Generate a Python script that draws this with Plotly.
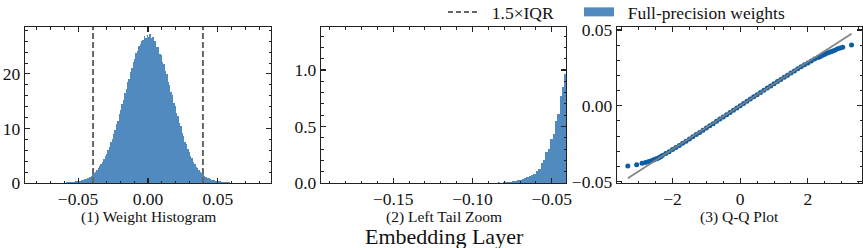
import plotly.graph_objects as go

# ---------------- data ----------------
# Panel 1: weight histogram, bins of width 0.001 starting at -0.070 (density)
hist1_start = -0.070
hist1_width = 0.001
hist1_heights = [
    0.022, 0.026, 0.030, 0.035, 0.040, 0.046, 0.052, 0.060, 0.070, 0.080,
    0.090, 0.105, 0.125, 0.145, 0.170, 0.200, 0.230, 0.270, 0.310, 0.350,
    0.390, 0.440, 0.500, 0.570, 0.660, 0.72, 0.84, 0.97, 1.15, 1.31,
    1.56, 1.75, 2.06, 2.31, 2.70, 3.07, 3.40, 3.92, 4.31, 4.95,
    5.40, 6.12, 6.68, 7.52, 8.10, 9.04, 9.70, 10.78, 11.45, 12.62,
    13.30, 14.52, 15.20, 16.50, 17.21, 18.52, 19.10, 20.41, 21.00, 22.12,
    22.68, 23.80, 24.20, 25.08, 25.41, 26.10, 26.25, 26.88, 26.62, 27.05,
    26.80, 27.30, 26.58, 26.72, 25.95, 26.10, 25.00, 24.85, 23.70, 23.38,
    22.20, 21.86, 20.52, 20.02, 18.58, 18.05, 16.70, 16.10, 14.72, 14.12,
    12.82, 12.30, 11.02, 10.40, 9.22, 8.70, 7.60, 7.12, 6.20, 5.75,
    4.95, 4.52, 3.85, 3.55, 3.00, 2.72, 2.32, 2.10, 1.80, 1.58,
    1.32, 1.18, 0.96, 0.86, 0.70, 0.64, 0.55, 0.49, 0.43, 0.38,
    0.34, 0.30, 0.265, 0.23, 0.20, 0.17, 0.145, 0.125, 0.105, 0.090,
    0.080, 0.068, 0.058, 0.050, 0.044, 0.038, 0.033, 0.028, 0.024, 0.020,
]

# 1.5 x IQR fences
iqr_lower = -0.0393
iqr_upper = 0.0393

# Panel 2: left tail histogram, bins of width 0.0015 starting at -0.0855
hist2_start = -0.0855
hist2_width = 0.0015
hist2_heights = [
    0.003, 0.005, 0.004, 0.008, 0.009, 0.013, 0.012, 0.019, 0.021, 0.028,
    0.027, 0.038, 0.040, 0.052, 0.058, 0.075, 0.084, 0.110, 0.125, 0.175,
    0.200, 0.270, 0.300, 0.390, 0.430, 0.545, 0.610, 0.770, 0.850, 0.960,
]

# Panel 3: Q-Q plot (theoretical normal quantile, sample quantile)
qq_theoretical = [
    -3.32, -3.06, -2.90, -2.80, -2.72, -2.66, -2.60, -2.55, -2.50, -2.45, -2.40, -2.35,
    -2.3, -2.2, -2.1, -2.0, -1.9, -1.8, -1.7, -1.6, -1.5, -1.4, -1.3, -1.2, -1.1, -1.0,
    -0.9, -0.8, -0.7, -0.6, -0.5, -0.4, -0.3, -0.2, -0.1, 0.0, 0.1, 0.2, 0.3, 0.4, 0.5,
    0.6, 0.7, 0.8, 0.9, 1.0, 1.1, 1.2, 1.3, 1.4, 1.5, 1.6, 1.7, 1.8, 1.9, 2.0, 2.1, 2.2, 2.3,
    2.35, 2.40, 2.45, 2.50, 2.56, 2.62, 2.68, 2.74, 2.81, 2.88, 2.96, 3.03, 3.29,
]
qq_sample = [
    -0.0398, -0.0390, -0.0380, -0.0374, -0.0370, -0.0366, -0.0361, -0.0357, -0.0352, -0.0348, -0.0343, -0.0337,
    -0.0328, -0.0316, -0.0303, -0.0289, -0.0276, -0.0262, -0.0248, -0.0234, -0.0219, -0.0205, -0.0190, -0.0176, -0.0161, -0.0147,
    -0.0132, -0.0118, -0.0103, -0.0088, -0.0074, -0.0059, -0.0044, -0.0030, -0.0015, 0.0000, 0.0015, 0.0030, 0.0044, 0.0059, 0.0073,
    0.0088, 0.0102, 0.0117, 0.0131, 0.0145, 0.0160, 0.0174, 0.0188, 0.0202, 0.0216, 0.0230, 0.0244, 0.0257, 0.0270, 0.0283, 0.0296, 0.0308, 0.0319,
    0.0324, 0.0330, 0.0335, 0.0340, 0.0346, 0.0351, 0.0356, 0.0362, 0.0368, 0.0376, 0.0381, 0.0386, 0.0401,
]
# fitted reference line
qq_line_x = [-3.32, 3.29]
qq_line_y = [-0.0478, 0.0475]

# text
subtitles = ["(1) Weight Histogram", "(2) Left Tail Zoom", "(3) Q-Q Plot"]
suptitle = "Embedding Layer"
legend_labels = ["1.5\u00d7IQR", "Full-precision weights"]

# ---------------- styling ----------------
BLUE = "#0C5DA5"
BAR_FILL = "rgba(12,93,165,0.72)"
FONT = "Liberation Serif"
W, H = 863, 248
NBSP = "\u00a0"


def px(x):
    return x / W


def py(y):
    return 1 - y / H


hist1_x = [hist1_start + hist1_width * (i + 0.5) for i in range(len(hist1_heights))]
hist2_x = [hist2_start + hist2_width * (i + 0.5) for i in range(len(hist2_heights))]

fig = go.Figure()

fig.add_trace(go.Bar(x=hist1_x, y=hist1_heights, width=hist1_width,
                     marker=dict(color=BAR_FILL, line=dict(width=0)),
                     showlegend=False, xaxis="x", yaxis="y"))
fig.add_trace(go.Bar(x=hist2_x, y=hist2_heights, width=hist2_width,
                     marker=dict(color=BAR_FILL, line=dict(width=0)),
                     showlegend=False, xaxis="x2", yaxis="y2"))
fig.add_trace(go.Scatter(x=qq_theoretical, y=qq_sample, mode="markers",
                         marker=dict(color=BLUE, size=5, line=dict(width=0)),
                         showlegend=False, xaxis="x3", yaxis="y3"))
fig.add_trace(go.Scatter(x=qq_line_x, y=qq_line_y, mode="lines",
                         line=dict(color="rgba(128,128,128,0.95)", width=1.8),
                         showlegend=False, xaxis="x3", yaxis="y3"))

# legend entries (two independent legends)
fig.add_trace(go.Scatter(x=[None], y=[None], mode="lines", name=NBSP * 2 + legend_labels[0],
                         line=dict(color="#666666", width=2, dash="5px,3px"),
                         xaxis="x", yaxis="y", legend="legend"))
fig.add_trace(go.Scatter(x=[None], y=[None], mode="lines", name=NBSP * 2 + legend_labels[1],
                         line=dict(color=BAR_FILL, width=9),
                         xaxis="x", yaxis="y", legend="legend2"))

for xv in (iqr_lower, iqr_upper):
    fig.add_shape(type="line", xref="x", yref="y domain", x0=xv, x1=xv, y0=0, y1=1,
                  line=dict(color="#666666", width=2, dash="6px,3px"))

yd = [py(183), py(27)]
xd = [[px(25), px(271)], [px(321), px(566)], [px(617), px(862)]]


def ax(domain, rng, dtick, minor_dtick, fmt, anchor=None):
    return dict(domain=domain, range=rng, dtick=dtick, tick0=0, tickformat=fmt,
                showgrid=False, zeroline=False, showline=True, linecolor="#222222",
                linewidth=1.2, mirror="allticks", ticks="inside", ticklen=5,
                tickwidth=1.1, tickcolor="#222222", automargin=False,
                minor=dict(dtick=minor_dtick, tick0=0, ticks="inside", ticklen=2.5,
                           tickwidth=1, tickcolor="#222222", showgrid=False),
                tickfont=dict(family=FONT, size=17.5, color="#111111"),
                anchor=anchor)


def leg(xpix):
    return dict(orientation="h", xref="paper", yref="paper",
                x=px(xpix), xanchor="left", y=py(12), yanchor="middle",
                bgcolor="rgba(0,0,0,0)", borderwidth=0,
                font=dict(family=FONT, size=17.5, color="#111111"),
                itemwidth=30, tracegroupgap=0)


annotations = []
for i, txt in enumerate(subtitles):
    annotations.append(dict(text=txt, x=(xd[i][0] + xd[i][1]) / 2, y=py(217),
                            xref="paper", yref="paper", xanchor="center", yanchor="middle",
                            showarrow=False, font=dict(family=FONT, size=15.5, color="#111111")))
annotations.append(dict(text=suptitle, x=px(444), y=py(236.5), xref="paper", yref="paper",
                        xanchor="center", yanchor="middle", showarrow=False,
                        font=dict(family=FONT, size=22, color="#111111")))

fig.update_layout(
    width=W, height=H, margin=dict(l=0, r=0, t=0, b=0, pad=0, autoexpand=False),
    plot_bgcolor="white", paper_bgcolor="white", bargap=0,
    xaxis=ax(xd[0], [-0.088, 0.088], 0.05, 0.01, ".2f", "y"),
    yaxis=ax(yd, [0, 28.6], 10, 2, "d", "x"),
    xaxis2=ax(xd[1], [-0.1955, -0.041], 0.05, 0.01, ".2f", "y2"),
    yaxis2=ax(yd, [0, 1.38], 0.5, 0.1, ".1f", "x2"),
    xaxis3=ax(xd[2], [-3.64, 3.60], 2, 0.5, "d", "y3"),
    yaxis3=ax(yd, [-0.0510, 0.0520], 0.05, 0.01, ".2f", "x3"),
    legend=leg(443),
    legend2=leg(579),
    annotations=annotations,
    hovermode=False,
)

fig.write_html("out.html", config={"displayModeBar": False, "staticPlot": True},
               post_script="document.body.style.margin='0px';document.body.style.overflow='hidden';")
